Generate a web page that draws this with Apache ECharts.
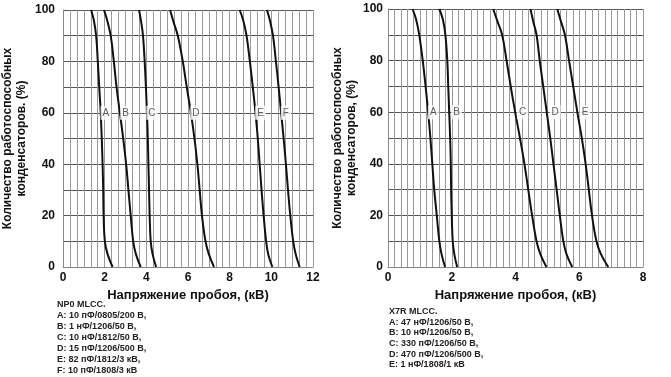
<!DOCTYPE html>
<html>
<head>
<meta charset="utf-8">
<script src="https://cdn.jsdelivr.net/npm/echarts@6/dist/echarts.min.js"></script>
<style>
  html, body { margin: 0; padding: 0; background: #fff; }
  #chart { width: 671px; height: 377px; }
</style>
</head>
<body>
<div id="chart"></div>
<script>
// NP0 curves: [kV, %]
const npoA = [[1.35,100],[1.48,96],[1.59,90],[1.67,80],[1.74,70],[1.81,60],[1.86,50],[1.90,40],[1.93,30],[1.95,20],[2.01,10],[2.14,5],[2.38,0]];
const npoB = [[1.97,100],[2.12,96],[2.29,90],[2.44,80],[2.57,70],[2.73,60],[2.89,50],[3.03,40],[3.14,30],[3.25,20],[3.37,10],[3.5,5],[3.73,0]];
const npoC = [[3.65,100],[3.76,95],[3.84,90],[3.92,80],[3.98,70],[4.03,60],[4.07,50],[4.10,40],[4.13,30],[4.16,20],[4.21,10],[4.3,5],[4.47,0]];
const npoD = [[5.14,100],[5.32,95],[5.51,90],[5.75,80],[5.94,70],[6.14,60],[6.31,50],[6.45,40],[6.56,30],[6.67,20],[6.84,10],[7.0,5],[7.25,0]];
const npoE = [[8.48,100],[8.65,96],[8.81,90],[8.97,80],[9.11,70],[9.24,60],[9.35,50],[9.44,40],[9.53,30],[9.63,20],[9.75,10],[9.85,5],[10.05,0]];
const npoF = [[9.79,100],[9.93,96],[10.08,90],[10.22,80],[10.35,70],[10.47,60],[10.59,50],[10.70,40],[10.80,30],[10.91,20],[11.05,10],[11.17,5],[11.36,0]];
const npoLabels = [[2.06,60,'A'],[3.0,60,'B'],[4.27,60,'C'],[6.38,60,'D'],[9.48,60,'E'],[10.70,60,'F']];

// X7R curves: [kV, %]
const x7rA = [[0.77,100],[0.88,96],[0.98,90],[1.09,80],[1.18,70],[1.26,60],[1.33,50],[1.39,40],[1.45,30],[1.53,20],[1.61,10],[1.68,5],[1.79,0]];
const x7rB = [[1.61,100],[1.72,96],[1.80,90],[1.86,80],[1.89,70],[1.92,60],[1.95,50],[1.97,40],[1.98,30],[2.00,20],[2.03,10],[2.08,5],[2.17,0]];
const x7rC = [[3.30,100],[3.44,95],[3.58,90],[3.72,80],[3.85,70],[3.99,60],[4.14,50],[4.28,40],[4.40,30],[4.52,20],[4.66,10],[4.78,5],[4.97,0]];
const x7rD = [[4.47,100],[4.56,95],[4.66,90],[4.76,80],[4.87,70],[4.98,60],[5.09,50],[5.19,40],[5.29,30],[5.39,20],[5.50,10],[5.6,5],[5.78,0]];
const x7rE = [[5.31,100],[5.43,95],[5.55,90],[5.68,80],[5.81,70],[5.94,60],[6.08,50],[6.20,40],[6.30,30],[6.40,20],[6.54,10],[6.68,5],[6.91,0]];
const x7rLabels = [[1.42,60,'A'],[2.15,60,'B'],[4.22,60,'C'],[5.24,60,'D'],[6.18,60,'E']];

const yTitleNpo = 'Количество работоспособных\nконденсаторов. (%)';
const yTitleX7r = 'Количество работоспособных\nконденсаторов, (%)';
const xTitle = 'Напряжение пробоя, (кВ)';

const npoLegend = ['NP0 MLCC.', 'A: 10 пФ/0805/200 В,', 'B: 1 нФ/1206/50 В,', 'C: 10 нФ/1812/50 В,', 'D: 15 пФ/1206/500 В,', 'E: 82 пФ/1812/3 кВ,', 'F: 10 пФ/1808/3 кВ'];
const x7rLegend = ['X7R MLCC.', 'A: 47 нФ/1206/50 В,', 'B: 10 нФ/1206/50 В,', 'C: 330 пФ/1206/50 В,', 'D: 470 пФ/1206/500 В,', 'E: 1 нФ/1808/1 кВ'];

const font = 'Liberation Sans, Arial, sans-serif';
const tickLabel = { fontFamily: font, fontWeight: 'bold', fontSize: 12, color: '#111' };

const xAxisBase = (grid, max, minorN) => ({
  gridIndex: grid, type: 'value', min: 0, max: max, interval: 2,
  name: xTitle, nameLocation: 'middle', nameGap: 16,
  nameTextStyle: { fontFamily: font, fontWeight: 'bold', fontSize: 13, color: '#111' },
  axisLine: { show: true, lineStyle: { color: '#888', width: 1 } },
  axisTick: { show: false },
  axisLabel: Object.assign({ margin: 5 }, tickLabel),
  splitLine: { show: true, lineStyle: { color: '#999', width: 1 } },
  minorTick: { show: false, splitNumber: minorN },
  minorSplitLine: { show: true, lineStyle: { color: '#999', width: 1 } }
});
const yAxisBase = (grid, title, gap, margin) => ({
  gridIndex: grid, type: 'value', min: 0, max: 100, interval: 20,
  name: title, nameLocation: 'middle', nameGap: gap, nameRotate: 90,
  nameTextStyle: { fontFamily: font, fontWeight: 'bold', fontSize: 12, color: '#111', lineHeight: 14 },
  axisLine: { show: true, lineStyle: { color: '#888', width: 1 } },
  axisTick: { show: false },
  axisLabel: Object.assign({ margin: margin }, tickLabel),
  splitLine: { show: true, lineStyle: { color: '#555', width: 1 } },
  minorTick: { show: false, splitNumber: 2 },
  minorSplitLine: { show: true, lineStyle: { color: '#555', width: 1 } }
});

const curve = (data, idx) => ({
  type: 'line', xAxisIndex: idx, yAxisIndex: idx, data: data,
  smooth: 0.4, symbol: 'none', silent: true,
  lineStyle: { color: '#111', width: 2 }, z: 3
});
const letters = (data, idx) => ({
  type: 'scatter', xAxisIndex: idx, yAxisIndex: idx, data: data,
  symbolSize: 1, itemStyle: { color: 'rgba(0,0,0,0)' }, silent: true, z: 4,
  label: {
    show: true, position: 'inside', formatter: p => p.data[2],
    fontFamily: font, fontSize: 10, color: '#333',
    backgroundColor: '#fff', padding: [2, 2]
  }
});

const chart = echarts.init(document.getElementById('chart'), null, { renderer: 'canvas' });
chart.setOption({
  animation: false,
  backgroundColor: '#fff',
  grid: [
    { left: 61, top: 10, width: 252, height: 257 },
    { left: 388, top: 9, width: 255, height: 258 }
  ],
  xAxis: [xAxisBase(0, 12, 6), xAxisBase(1, 8, 10)],
  yAxis: [yAxisBase(0, yTitleNpo, 34, 8), yAxisBase(1, yTitleX7r, 27, 5)],
  graphic: [
    { type: 'text', left: 57, top: 299, style: { text: npoLegend.join('\n'), fontFamily: font, fontWeight: 'bold', fontSize: 9, lineHeight: 11, fill: '#222' } },
    { type: 'text', left: 389, top: 306, style: { text: x7rLegend.join('\n'), fontFamily: font, fontWeight: 'bold', fontSize: 9, lineHeight: 10.7, fill: '#222' } }
  ],
  series: [
    curve(npoA, 0), curve(npoB, 0), curve(npoC, 0), curve(npoD, 0), curve(npoE, 0), curve(npoF, 0),
    letters(npoLabels, 0),
    curve(x7rA, 1), curve(x7rB, 1), curve(x7rC, 1), curve(x7rD, 1), curve(x7rE, 1),
    letters(x7rLabels, 1)
  ]
});
</script>
</body>
</html>
